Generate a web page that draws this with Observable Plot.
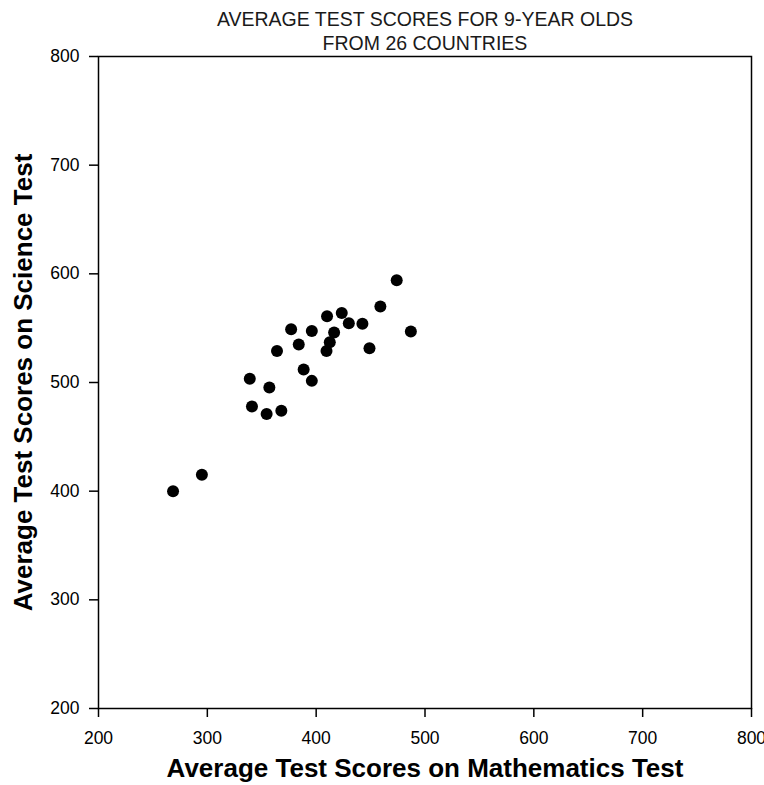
<!DOCTYPE html>
<html>
<head>
<meta charset="utf-8">
<script src="https://cdn.jsdelivr.net/npm/d3@7"></script>
<script src="https://cdn.jsdelivr.net/npm/@observablehq/plot@0.6"></script>
<style>
  body { margin: 0; background: #fff; }
  svg { display: block; }
</style>
</head>
<body>
<div id="chart"></div>
<script>
// Values
const mathScores    = [474, 459, 487, 410, 423.5, 430, 442.5, 377, 396, 416.5, 412.5, 384, 364, 409.5, 449, 388.5, 396, 339, 357, 341, 354.5, 368, 295, 268.5];
const scienceScores = [594, 570, 547, 561, 564, 554.5, 554, 549, 547.5, 546, 537, 535, 529, 529, 531.5, 512, 501.5, 503.5, 495.5, 478, 471, 474, 415, 400];
const xTicks = [200, 300, 400, 500, 600, 700, 800];
const yTicks = [200, 300, 400, 500, 600, 700, 800];
const titleLines = ["AVERAGE TEST SCORES FOR 9-YEAR OLDS", "FROM 26 COUNTRIES"];
const xLabel = "Average Test Scores on Mathematics Test";
const yLabel = "Average Test Scores on Science Test";

const data = mathScores.map((m, i) => ({math: m, science: scienceScores[i]}));

const chart = Plot.plot({
  width: 764,
  height: 785,
  marginLeft: 98,
  marginRight: 13,
  marginTop: 56,
  marginBottom: 77,
  style: {fontFamily: "'Liberation Sans', Arial, sans-serif", fontSize: "17.5px", color: "#000", background: "#fff"},
  x: {domain: [200, 800], ticks: xTicks, tickSize: 9, tickPadding: 14, label: null, tickFormat: d => String(d)},
  y: {domain: [200, 800], ticks: yTicks, tickSize: 9, tickPadding: 10, label: null, tickFormat: d => String(d)},
  marks: [
    Plot.frame({stroke: "#000", strokeWidth: 1.5}),
    Plot.dot(data, {x: "math", y: "science", r: 6, fill: "#000", stroke: "none"}),
    Plot.text([titleLines.join("\n")], {
      frameAnchor: "top", dy: -26, text: d => d,
      fontSize: 19.5, lineHeight: 1.25, lineAnchor: "middle",
      fill: "#1a1a1a"
    }),
    Plot.text([xLabel], {
      frameAnchor: "bottom", dy: 60, text: d => d,
      fontSize: 26, fontWeight: "bold", lineAnchor: "middle"
    }),
    Plot.text([yLabel], {
      frameAnchor: "left", dx: -75, rotate: -90, text: d => d, textAnchor: "middle",
      fontSize: 26, fontWeight: "bold", lineAnchor: "middle"
    })
  ]
});

d3.select(chart).selectAll('g[aria-label="x-axis tick"] path, g[aria-label="y-axis tick"] path').attr("stroke-width", 1.5);
document.getElementById("chart").appendChild(chart);
</script>
</body>
</html>
